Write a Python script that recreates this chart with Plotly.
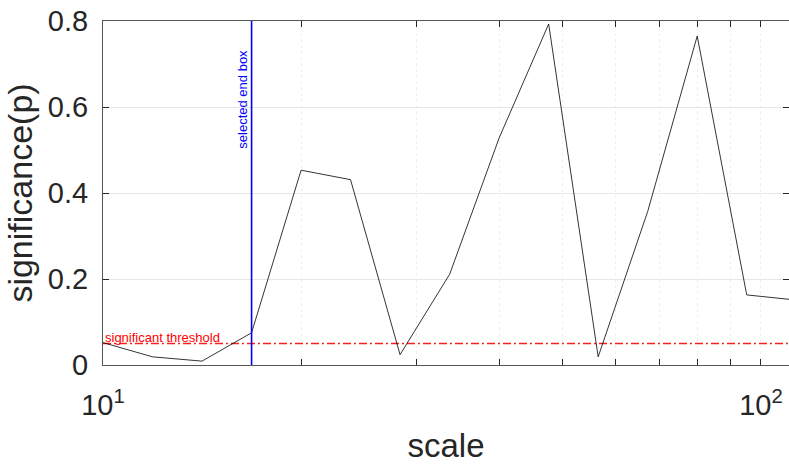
import plotly.graph_objects as go
import math

# data
scales = [10, 11.89, 14.14, 16.82, 20, 23.78, 28.28, 33.64, 40, 47.57, 56.57, 67.27, 80, 95.14, 113.14]
p_values = [0.052, 0.019, 0.009, 0.075, 0.453, 0.431, 0.024, 0.211, 0.528, 0.793, 0.019, 0.357, 0.765, 0.163, 0.151]
selected_scale = 16.82
threshold = 0.05
threshold_x = [10, 120]
x_tickvals = [10, 20, 30, 40, 50, 60, 70, 80, 90, 100]
x_ticktext = ["10<sup>1</sup>", " ", " ", " ", " ", " ", " ", " ", " ", "10<sup>2</sup>"]
y_tickvals = [0, 0.2, 0.4, 0.6, 0.8]
y_ticktext = ["0", "0.2", "0.4", "0.6", "0.8"]

FONT = "Liberation Sans, Arial, sans-serif"
AX = "#262626"

fig = go.Figure()
fig.add_trace(go.Scatter(x=threshold_x, y=[threshold, threshold], mode="lines",
                         line=dict(color="rgb(255,30,30)", width=1.3, dash="8px,3px,2px,3px"),
                         showlegend=False))
fig.add_trace(go.Scatter(x=scales, y=p_values, mode="lines",
                         line=dict(color="black", width=0.8), showlegend=False))

# selected line
fig.add_shape(type="line", xref="x", yref="paper", x0=selected_scale, x1=selected_scale, y0=0, y1=1,
              line=dict(color="#0000ff", width=1.6))

fig.add_annotation(x=math.log10(selected_scale), y=0.737, xref="x", yref="y",
                   text="selected end box", textangle=-90, showarrow=False,
                   xanchor="right", yanchor="top", xshift=0,
                   font=dict(family=FONT, size=13, color="#0000ff"))
fig.add_annotation(x=0, y=threshold, xref="paper", yref="y",
                   text="significant threshold", showarrow=False,
                   xanchor="left", yanchor="bottom", yshift=-3,
                   font=dict(family=FONT, size=13, color="#ff0000"))

fig.update_layout(
    width=789, height=464,
    margin=dict(l=103, r=0, t=21, b=99),
    plot_bgcolor="white", paper_bgcolor="white",
    font=dict(family=FONT, color=AX),
    xaxis=dict(type="log", range=[1, 2.0426], tickvals=x_tickvals, ticktext=x_ticktext,
               ticks="inside", ticklen=6, tickcolor=AX, showline=True, linecolor="#555",
               linewidth=1, mirror="ticks", showgrid=True, gridcolor="#f0f0f0", griddash="dot",
               tickfont=dict(size=29, color=AX), zeroline=False, automargin=False,
               ticklabelstandoff=14,
               title=dict(text="scale", font=dict(size=33, color=AX), standoff=14)),
    yaxis=dict(range=[0, 0.8], tickvals=y_tickvals, ticktext=y_ticktext,
               ticks="inside", ticklen=6, tickcolor=AX, showline=True, linecolor="#555",
               linewidth=1, mirror="ticks", showgrid=True, gridcolor="#e6e6e6",
               tickfont=dict(size=29, color=AX), zeroline=False, automargin=False,
               ticklabelstandoff=8,
               title=dict(text="significance(p)", font=dict(size=34, color=AX), standoff=4)),
)

fig.write_html("out.html", post_script="document.body.style.margin='0';",
               config={"displayModeBar": False})
